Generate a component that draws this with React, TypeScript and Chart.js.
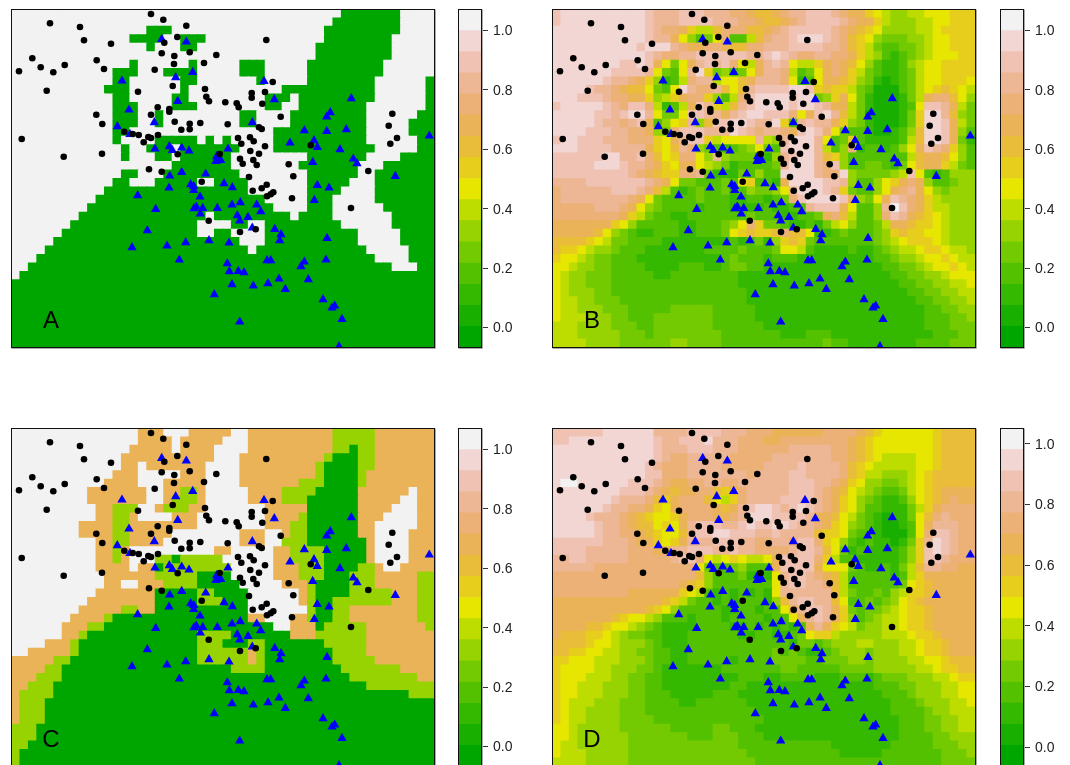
import React, { useEffect, useRef } from "react";
import { Chart, registerables } from "chart.js";

Chart.register(...registerables);

const blackPoints: number[][] = [
  [151,14],[163.3,19.7],[186.3,25.7],[50,23.3],[80,27],[84,40.3],[111,43.7],[177.3,37],[164.3,42.7],[161.7,53.3],
  [174.3,56],[189.7,52.3],[216.3,55],[174,64],[204,63],[32.3,58.3],[40.7,67.3],[64.7,65],[53.3,72.3],[19,71.3],
  [96.7,60.3],[104,69],[154.7,69.7],[172.7,86],[46.7,90.7],[138,91.7],[205,89],[206.3,96.7],[209,101.3],[225.3,102.3],
  [157.7,107.3],[169.3,109],[169.3,111.7],[96.3,114.7],[151,114.7],[102.3,124],[174.7,121.7],[189.7,123.7],[189.7,129.3],[181.3,129.7],
  [200.3,123],[227.7,124.3],[124.3,131.7],[132.7,134],[138.7,135],[148.3,137],[151,138],[158,135],[143.7,142.3],[21.7,139],
  [102,153.7],[63.7,156.7],[177.7,154.3],[219.7,154],[149,169.3],[161.7,171.7],[201.7,181.7],[208.7,220.7],[266.3,40],[272.7,82],
  [251.7,93],[251.7,97.7],[265,92],[262.3,103.7],[236.7,103.3],[238.7,107.3],[280.7,116.7],[259,127.3],[261.7,129],[238,138],
  [241.3,143.7],[250,137.3],[253.7,141.3],[265,146.3],[250.3,151],[259,153.7],[240,158.7],[242.7,163.7],[253.3,160],[256.7,165],
  [288.7,164.3],[310.7,145.3],[293.3,176.3],[249,177],[392.3,113.7],[388.7,125.7],[397,138],[390.3,143.7],[368.3,171],[266.7,184.7],
  [261.7,188.3],[252.7,190.7],[273.3,192.3],[270.7,194.3],[267,196.3],[292,198.3],[351,208],[240,232],[255.7,229.3],
];

const bluePoints: number[][] = [
  [161.7,38],[186.3,40.7],[192.7,71],[175.7,76.3],[122,79.7],[177.7,100],[129,108.7],[154.3,121.3],[117.3,125.3],[130,133],
  [155,147.7],[169.3,145.3],[172.3,149],[181.7,146.7],[189,149.7],[228,147.7],[216.7,155.3],[216,160],[220.7,159],[205.7,172.7],
  [181.7,171],[169.7,174.7],[264,80],[274.3,98.3],[351.3,97.3],[330.3,111.3],[326.7,115.7],[252.3,121.3],[304.3,129.3],[326.7,130],
  [346.3,128.3],[314,139.3],[317.3,146],[290,141.7],[340,148.3],[312.7,161],[353.3,157.7],[357,162.3],[395.3,175],[429.3,134.7],
  [169,186.7],[137.7,194.3],[190.7,183.3],[193.7,185],[193.7,189],[224,182.3],[200,195.7],[155.7,208],[194,207.3],[196.3,205.7],
  [202.7,207],[217.3,207],[200.3,212.7],[147.3,229.3],[209,239.3],[185.7,241.3],[167,244.7],[132,246.3],[229,241.7],[179.3,258.7],
  [227.3,262.3],[229.3,270.3],[214.3,293.3],[232,283.3],[232.3,186.3],[317.3,184],[329,186.7],[314.3,199],[232,203.7],[240.3,201.3],
  [256.7,203.7],[260.7,210.3],[237.3,214.3],[248,216],[239.7,219.7],[252.3,226.7],[274.7,228],[281,233.3],[279.7,239.3],[327,237],
  [326,258.7],[304.3,260.7],[301,265.3],[267,259.3],[270.7,259.3],[238.3,270],[244,271.3],[279,277.7],[308.3,278.3],[268,282.3],
  [253.3,284.7],[285.3,288],[323,298.3],[334.7,304.7],[332,306.7],[342,318],[239.7,320.7],[339,345.3],
];

// Level runs: first character is the level, the rest is the column it starts in.
const gridA: string[] = [
  "f0 039 f46","f0 038 f46","f0 016 f19 037 f46","f0 014 f18 020 f23 037 f45","f0 016 f17 020 f22 036 f45",
  "f0 036 f45","f0 014 f15 021 f22 027 f30 035 f44","f0 012 f15 018 f22 027 f30 035 f44","f0 012 f14 020 f22 029 f30 035 f43 049",
  "f0 011 f14 020 f21 032 f43 049","f0 012 f14 019 f21 030 f33 034 f43 049","f0 012 f15 019 f22 030 f32 034 f42 049",
  "f0 012 f15 017 f18 027 f29 033 f42 048","f0 012 f15 017 f18 027 f29 033 f42 047","f0 012 f14 031 f42 047",
  "f0 012 f13 017 f22 023 f24 025 f26 031 f42 048","f0 013 f14 016 f19 020 f27 031 f43 048","f0 013 f14 017 f19 020 f26 035 f42 046",
  "f0 019 f26 034 f41 044","f0 013 f15 018 f27 035 f41 043","f0 012 f14 017 f22 024 f28 035 f40 043","f0 011 f28 035 f39 043",
  "f0 010 f30 035 f38 043","f0 09 f31 035 f38 044","f0 08 f23 024 f33 034 f38 045","f0 07 f22 026 f28 030 f39 045",
  "f0 06 f22 024 f26 030 f41 046","f0 05 f27 030 f41 046","f0 04 f28 029 f42 047","f0 03 f43 047","f0 02 f45 048","f0 01","00","00","00","00","00","00","00","00",
];

const gridC: string[] = [
  "f0 a15 f18 a21 f26 a28 538 a43","f0 a15 f19 a20 f25 a28 538 a43","f0 a14 f19 a20 f24 a28 538 040 541 a43","f0 a13 f24 a27 537 038 541 a43",
  "f0 a13 f15 a16 f23 a27 536 037 541 a43","f0 a12 f15 a20 f23 a27 536 037 541 a42","f0 a11 f15 a18 f23 a27 534 037 541 a42",
  "f0 a9 f16 a18 520 a22 f23 a28 532 036 a41 f47 a48","f0 a9 f16 a18 519 a22 f23 a28 532 035 a41 f46 a48",
  "f0 a10 512 f15 a17 518 a21 f23 a30 035 a41 f45 a48","f0 a10 512 a14 f15 a19 f22 a30 534 035 a41 f44 a48",
  "f0 a8 512 a14 f22 a30 533 035 a41 f43 a48","f0 a8 512 a14 f19 a27 f30 a32 533 035 a41 f43 a47",
  "f0 a10 512 a14 f18 a27 f30 532 035 a42 f43 a47","f0 a10 512 a13 f14 a24 f26 a31 533 037 a42 f43 a47",
  "f0 a10 512 a13 f14 517 019 520 f25 a31 533 037 a42 f43 a47","f0 a10 f14 a15 017 518 f26 a31 534 037 541 a43 f44 a46",
  "f0 a11 517 022 f26 a31 534 037 540 a43 548","f0 a11 f13 a15 518 022 f27 a32 535 036 540 a43 548",
  "f0 a10 017 522 024 f28 a34 535 036 540 a45 548","f0 a9 017 522 025 f28 a34 535 036 538 a45 548",
  "f0 a8 513 a15 017 f28 535 036 538 a40 548","f0 a7 511 012 a28 f30 a33 535 036 538 a40 548",
  "f0 a6 59 011 f31 a33 036 537 a42 549","f0 a6 58 09 522 026 a33 536 a42","f0 a4 57 08 522 025 528 030 537 a42",
  "f0 a2 57 08 522 a28 529 030 538 a42","a0 55 07 522 a28 529 030 538 a43","a0 54 06 526 030 539 a46","a0 53 06 540 a48",
  "a0 52 05 542","a0 51 05 547","a0 51 04","a0 51 04","a0 51 04","50 03","50 03","50 02","50 01","50 01",
];

const gridB: string[] = [
  "deeeeeeeee edcccdddcc cbba99abcc dddcbaa876 5566777888","deeeeeeeee edcccddddc ccbba99abc ddddcbaa86 5556677888",
  "eeeeeeeeee edcbba8669 bbb99abcdd dddcba9875 5556678888","eeeeeeeeee edcca75347 b3369bccde eedcb98754 4455677888",
  "eeeeeeeeee deeecbaabb a99bbcccdd ddccb98643 3445677888","eeeeeeeeee edcbbccddd dddccdedcb bccbba8653 2345677788",
  "eeeeeeeedd eda747acdc db76acdc76 68aba97532 2356778888","eeeeeeeddd dc7437ce84 5347accb63 47aba86432 2346778888",
  "eeeeeedccb a85236bcc6 779acccb72 37aa985421 2346778887","eeeedccba9 97437ecbbc 979cddddee d898864311 1346789876",
  "eeedddcbba a8568abb85 36bdeeeede e458a74211 1246abb975","deeeeedcbd db6236adc8 69cdeeeede edcaa64211 1237ddca64",
  "eeeeeddcde ec7447ddcc acdeedddb7 adec964111 1248eec954","eeeeedccbc da3578c59d deedcce83c dcca854211 1248eeda64",
  "eeeedddccb ba54bdddcc cedcbccbad edb7433211 2359eeda53","deedddcccb bb87acdd86 7777c65cee ec73483222 2369eeda42",
  "eeeddddccc ca879cb543 2345743dee ec635b2332 357adcb853","ddddddeecc db978bb75c 5444225cde ec98533333 3369aa9753",
  "dddddeeedc cba87aa765 4233334cee ecbd533443 2479aa8643","dddddddddc ba988bbc42 2243533eee ecbbe54444 56d7323555",
  "ccccdddddd dcba744333 4378332aee eeddc53357 8aba533455","bccccccddd cb96323433 42354457ce eedc843357 abca754555",
  "bccccccccb a743333433 32233234bd eeeeda547a dcba865555","bbbbbcccba 7543333233 3222232233 cddda7335c fdba866555",
  "bbbbbbbba8 6433223333 3334333223 34ab96335b dca9876555","aaaaaaa875 3333322333 457b844322 3246753346 aa98876555",
  "aaaaa97543 2233322333 4789889b99 7223433345 8988776555","9999876443 3332222222 2323425898 4333333345 6788876555",
  "9887655433 3222222233 3343334776 3222232234 5667887665","8776544333 2222222222 3433323332 2222222233 4556778766",
  "7765544333 3222233322 3443322222 2222222223 3445677876","7655444333 3322333333 3322222222 2222222222 3344556777",
  "7655444333 3333333333 3322222222 2222222222 2334455667","7655544333 3333333333 3332222222 2222222222 2233445566",
  "7665544433 3333333333 3332222222 2222222222 2223344556","7665554443 3333444443 3333222222 2222222222 2222334455",
  "7666555443 3344444443 3333222222 2222222222 2222333445","6665555444 3344444443 3333322222 2222222222 2222333444",
  "6665555544 4344444444 3333333222 3332222222 2222233344","6666555544 4444554444 3333333333 3343322222 2223333444",
];

const gridD: string[] = [
  "ddddddeeee eeccccdddd cccbbbaaaa aabbbba987 7777789999","ddeeeeeeee eedccdddec ccbbbaabbb bbbbba9877 7777789999",
  "eeeeeeeeee eedcccdddc ccbbbbbbcc cccbba9877 7777789999","eeeeeeeeee eedcbbcccc cbbbbbcccc cccbba9876 6667789999",
  "eeeeeeeeee edcbbbcccc bbbbbccccd ccccb98766 6667789999","eeeeeeeeee eddbbbcccc cccbccccdd ccccb98665 5567899999",
  "effeeeeeed ddcbaabbcc bbccccccdd dccba87554 4567899999","eeeeeeeedd dcba9aabb9 89bcccccdd dcba976543 346789aaaa",
  "eeeeeeedcc cb98abbb97 68bccccddd dcba875432 235789abaa","eeeeeedccb ba87abbbba 9acdeedcde dcba875332 22468abbbb",
  "eeeedcccba 98778abbba abceeedddd caa9764321 22479bcbbb","eeeeedccba 99787acddd ccdeddeedc cba8754321 1237acccbb",
  "eeeeedccbb a98779cdde edddccdccc c988743321 1137bddcbb","ddddddcccb aa878acccd ddccbbccbd db87532322 1248cedcbb",
  "ddddcccccb bbaaccdddc cdccbbbbcd dc97423222 2358dedcbb","ccddcccccb bbbbcddb76 787667addd db86332222 2358ddcbbb",
  "cccccbbbbb bbbbbbb743 345333addd da77743223 2469ccbbaa","bbbbbbbbbb bbbbbbb953 3342227cdd cba9633333 2368aaaaaa",
  "bbbbbbbbbb bbbbba9853 3333337cdd ccb9633333 34789aaaaa","bbbbbbbbba aaaaa87632 3232327ccc ccc9643343 56889aaaaa",
  "aaaaaaaaaa aaa9864332 32333259cd dcc9733434 5789aaaaaa","aaaaaaaaaa a987533333 22332337ac ddca843445 67889aaaaa",
  "aaaaaaa987 7653332333 233332337a cdca853456 67889aaaaa","aaaa998776 5432222333 3223232323 aca8764556 67889aaaaa",
  "a999887654 4332223333 3322332234 7886555556 667889aaaa","9999877655 5432223333 3333333324 4345556655 5667889aaa",
  "9988776655 4433223333 3333334343 2234555455 5667889aaa","8877766655 5433223333 3233334444 3344455455 5566778999",
  "8777766555 4432222222 3333333443 3333444455 5556678899","8777666554 4332222222 2233322333 3222333234 4455566788",
  "8776665554 4332222222 2332222222 2222222233 3445556677","8776665554 4333222223 3322222222 2222222223 3345556677",
  "8766655544 4333322333 3332222222 2222222222 3334555667","8766555544 4333333333 3333222222 2222222222 3333455666",
  "8766555544 4433333333 3333322222 2222222222 2333445566","7765555544 4444333334 4333222222 2222222222 2333445566",
  "7765555554 4444443334 4433322222 2222222222 2333344555","7665555554 4444444444 4433333333 3332222222 3333344455",
  "7666555554 4444444444 4443333333 3333222223 3333334445","6666555554 4444444444 4444333333 3333333333 3333334444",
];

const panelLabels = ["A", "B", "C", "D"];
const barTicks = [0, 0.2, 0.4, 0.6, 0.8, 1.0];
const edgesABC = [-0.067,0.004,0.075,0.146,0.217,0.289,0.36,0.431,0.502,0.573,0.644,0.716,0.787,0.858,0.929,1.0,1.071];
const edgesD = [-0.063,0.007,0.076,0.146,0.215,0.285,0.355,0.424,0.494,0.563,0.633,0.703,0.772,0.842,0.911,0.981,1.05];

const COLS = 50;
const ROWS = 40;
const X_MIN = 11.5, X_MAX = 434.5, Y_MIN = 9.5, Y_MAX = 347.5;

function hsv(h: number, s: number, v: number): string {
  const i = Math.floor(h * 6) % 6;
  const f = h * 6 - Math.floor(h * 6);
  const p = v * (1 - s), q = v * (1 - f * s), t = v * (1 - (1 - f) * s);
  const rgb = [[v,t,p],[q,v,p],[p,v,t],[p,q,v],[t,p,v],[v,p,q]][i];
  return "rgb(" + rgb.map((c) => Math.round(c * 255)).join(",") + ")";
}
// The sixteen colours of the colour bar, lowest first.
const palette: string[] = [];
for (let i = 0; i < 8; i++) palette.push(hsv(4 / 12 - (2 / 12) * (i / 7), 1, 0.65 + 0.25 * (i / 7)));
for (let i = 1; i <= 8; i++) palette.push(hsv((2 / 12) * (1 - i / 8), 1 - i / 8, 0.9 + 0.05 * (i / 8)));

function rowFromRuns(row: string): string {
  const tokens = row.split(" ");
  let out = "";
  tokens.forEach((tok, i) => {
    const next = i + 1 < tokens.length ? parseInt(tokens[i + 1].slice(1), 10) : COLS;
    const start = parseInt(tok.slice(1), 10);
    out += tok[0].repeat(next - start);
  });
  return out;
}
const rowPlain = (row: string) => row.replace(/ /g, "");

function cellsOf(rows: string[]) {
  const data: { x: number; y: number }[] = [];
  const colors: string[] = [];
  const dx = (X_MAX - X_MIN) / COLS, dy = (Y_MAX - Y_MIN) / ROWS;
  rows.forEach((row, r) => {
    for (let c = 0; c < COLS; c++) {
      const level = parseInt(row[c] ?? "0", 16);
      data.push({ x: X_MIN + (c + 0.5) * dx, y: Y_MIN + (r + 0.5) * dy });
      colors.push(palette[level]);
    }
  });
  return { data, colors };
}

const frame = {
  id: "frame",
  afterDraw(chart: any) {
    const a = chart.chartArea;
    const ctx = chart.ctx;
    ctx.save();
    ctx.strokeStyle = "#aaaaaa";
    ctx.lineWidth = 1;
    ctx.beginPath();
    ctx.moveTo(a.right + 1, a.top);
    ctx.lineTo(a.right + 1, a.bottom + 1);
    ctx.lineTo(a.left, a.bottom + 1);
    ctx.stroke();
    ctx.strokeStyle = "#111111";
    ctx.strokeRect(a.left, a.top, a.right - a.left, a.bottom - a.top);
    const label = chart.options.plugins.frame?.label;
    if (label) {
      ctx.fillStyle = "#000000";
      ctx.font = '24px "Liberation Sans"';
      ctx.textAlign = "center";
      ctx.textBaseline = "alphabetic";
      ctx.fillText(label, chart.scales.x.getPixelForValue(51), chart.scales.y.getPixelForValue(327.5));
    }
    ctx.restore();
  },
};

const layouts = [
  { left: 11.5, top: 9.5, bar: 458.5, rows: gridA.map(rowFromRuns), edges: edgesABC },
  { left: 552.5, top: 9.5, bar: 1000.5, rows: gridB.map(rowPlain), edges: edgesABC },
  { left: 11.5, top: 428.5, bar: 458.5, rows: gridC.map(rowFromRuns), edges: edgesABC },
  { left: 552.5, top: 428.5, bar: 1000.5, rows: gridD.map(rowPlain), edges: edgesD },
];

const W = 423, H = 338, BAR_W = 23, BAR_CANVAS = 68;

export default function App() {
  const hostRef = useRef<HTMLDivElement>(null);
  useEffect(() => {
    const host = hostRef.current!;
    const charts: Chart[] = [];
    const place = (left: number, top: number, width: number, height: number) => {
      const canvas = document.createElement("canvas");
      canvas.width = width;
      canvas.height = height;
      canvas.style.position = "absolute";
      canvas.style.left = left + "px";
      canvas.style.top = top + "px";
      host.appendChild(canvas);
      return canvas;
    };
    layouts.forEach((p, i) => {
      const cl = Math.floor(p.left) - 2;
      const ct = Math.floor(p.top) - 2;
      const heat = place(cl, ct, W + 6, H + 6);
      const cells = cellsOf(p.rows);
      charts.push(
        new Chart(heat, {
          type: "scatter",
          data: {
            datasets: [
              {
                label: "class 1",
                data: blackPoints.map(([x, y]) => ({ x, y })),
                pointStyle: "circle",
                pointRadius: 3.3,
                backgroundColor: "#000000",
                borderWidth: 0,
                clip: 0,
              },
              {
                label: "class 0",
                data: bluePoints.map(([x, y]) => ({ x, y: y + 1.2 })),
                pointStyle: "triangle",
                pointRadius: 5.4,
                backgroundColor: "#0000ff",
                borderWidth: 0,
                clip: 0,
              },
              {
                label: "surface",
                data: cells.data,
                pointStyle: "rect",
                pointRadius: 6.75,
                backgroundColor: cells.colors,
                borderWidth: 0,
                clip: 0,
              },
            ] as any,
          },
          options: {
            animation: false,
            responsive: false,
            events: [],
            layout: {
              autoPadding: false,
              padding: { left: p.left - cl, top: p.top - ct, right: 6 - (p.left - cl), bottom: 6 - (p.top - ct) },
            },
            scales: {
              x: { display: false, min: X_MIN, max: X_MAX },
              y: { display: false, min: Y_MIN, max: Y_MAX, reverse: true },
            },
            plugins: { legend: { display: false }, tooltip: { enabled: false }, frame: { label: panelLabels[i] } } as any,
          },
          plugins: [frame],
        })
      );

      const barCl = Math.floor(p.bar) - 2;
      const bar = place(barCl, ct, BAR_CANVAS, H + 6);
      charts.push(
        new Chart(bar, {
          type: "bar",
          data: {
            labels: [""],
            datasets: palette.map((color, l) => ({
              data: [[p.edges[l], p.edges[l + 1]]],
              backgroundColor: color,
              borderWidth: 0,
              grouped: false,
              barPercentage: 1,
              categoryPercentage: 1,
            })) as any,
          },
          options: {
            animation: false,
            responsive: false,
            events: [],
            layout: {
              autoPadding: false,
              padding: { left: p.bar - barCl, top: p.top - ct, right: 0, bottom: 6 - (p.top - ct) },
            },
            scales: {
              x: { display: false },
              y: {
                position: "right",
                min: p.edges[0],
                max: p.edges[16],
                afterBuildTicks: (s: any) => {
                  s.ticks = barTicks.map((value) => ({ value }));
                },
                afterFit: (s: any) => {
                  s.width = BAR_CANVAS - (p.bar - barCl) - BAR_W;
                  s.paddingTop = 0;
                  s.paddingBottom = 0;
                },
                grid: { drawOnChartArea: false, tickLength: 6.5, tickColor: "#333333", tickWidth: 1 },
                border: { display: false },
                ticks: {
                  padding: 5,
                  labelOffset: 1,
                  color: "#222222",
                  autoSkip: false,
                  font: { family: '"Liberation Sans"', size: 14 },
                  callback: (v: any) => Number(v).toFixed(1),
                },
              },
            },
            plugins: { legend: { display: false }, tooltip: { enabled: false } },
          },
          plugins: [frame],
        })
      );
    });
    return () => {
      charts.forEach((c) => c.destroy());
      host.innerHTML = "";
    };
  }, []);
  return (
    <div
      ref={hostRef}
      style={{ position: "fixed", left: 0, top: 0, width: 1070, height: 765, overflow: "hidden", background: "#ffffff" }}
    />
  );
}
